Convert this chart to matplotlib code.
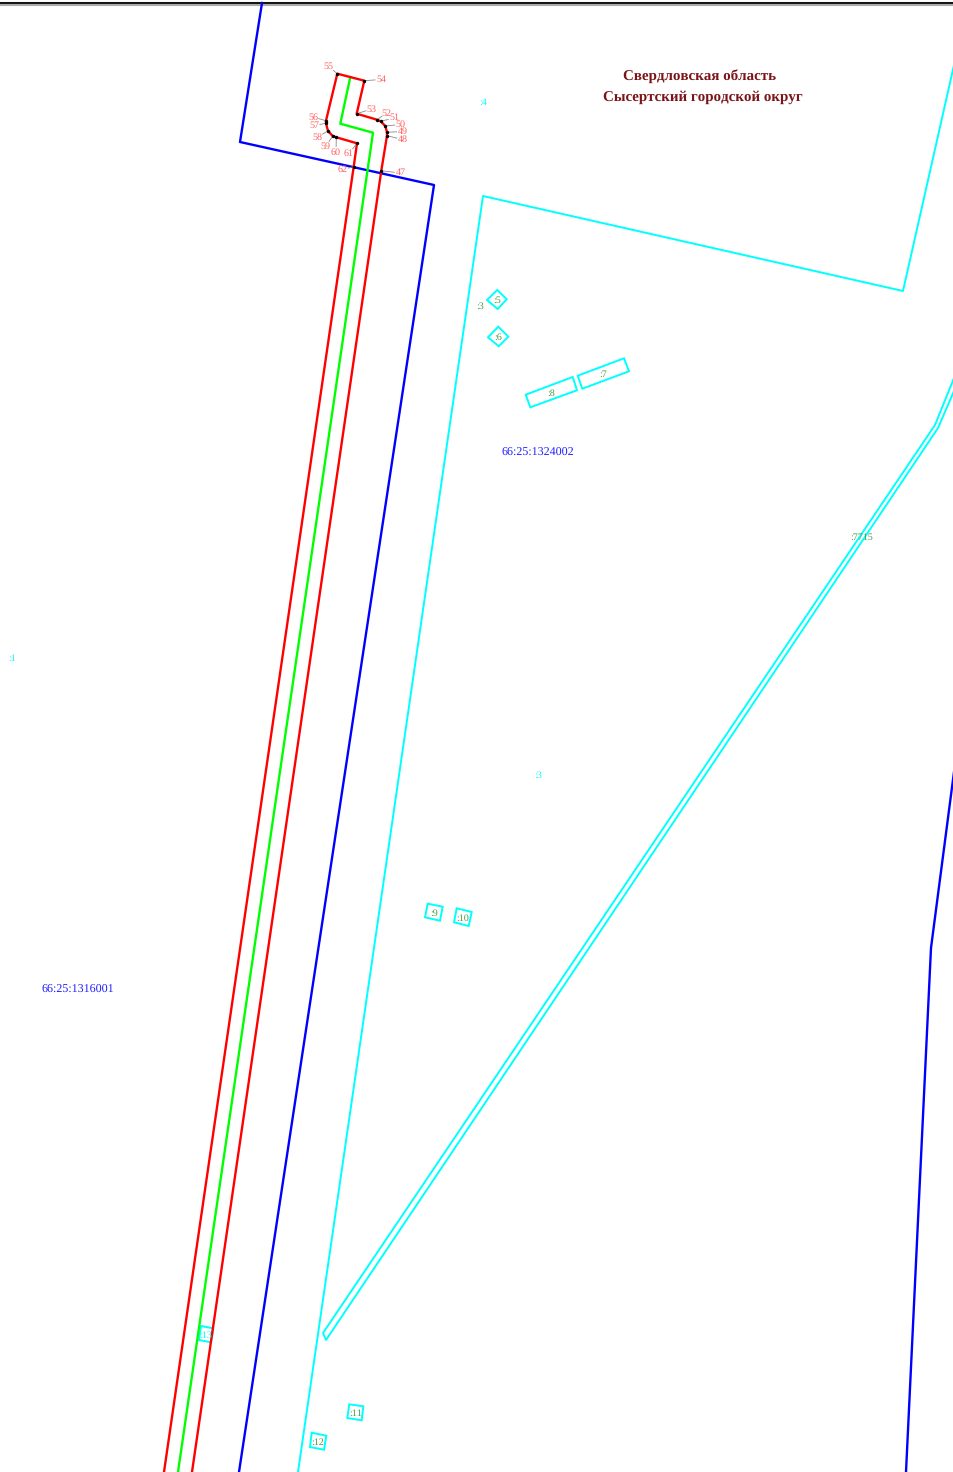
"""Cadastral plan sheet: red allotment, green axis, blue and cyan boundaries."""

import math

import matplotlib.pyplot as plt

plt.rcParams["font.family"] = ["Liberation Serif", "DejaVu Serif"]
plt.rcParams["text.hinting"] = "no_hinting"
plt.rcParams["text.hinting_factor"] = 1

W, H = 954, 1472

# -- boundaries, pixel coordinates of the sheet --
quarter_a_x = [262, 240, 434, 239]
quarter_a_y = [3, 142, 185, 1472]
quarter_b_x = [954, 931, 906]
quarter_b_y = [772, 948, 1472]

parcel_x = [298, 483, 903, 954]
parcel_y = [1472, 196, 291, 65]

strip_x = [954, 935, 323, 326, 938, 954]
strip_y = [378, 425, 1333, 1340, 428, 391]

# -- allotment --
red_x = [192, 381.3, 387, 387, 385.3, 380.7, 377, 356.7, 364.3, 337.3, 326, 326,
         328, 332.7, 336.3, 357, 353.7, 164]
red_y = [1472, 170.7, 135.7, 132.3, 126, 121.3, 119.7, 113.7, 80.7, 73.7, 120.7, 123.3,
         131, 136, 137.3, 143.3, 166.7, 1472]
axis_x = [350.3, 340.3, 373, 178]
axis_y = [77, 123.7, 132.7, 1472]

# -- turning points: number, vertex, label centre --
point_names = ["47", "48", "49", "50", "51", "52", "53", "54", "55", "56", "57", "58",
               "59", "60", "61", "62"]
point_x = [381.3, 387, 387, 385.3, 380.7, 377, 356.7, 364.3, 337.3, 326, 326, 328,
           332.7, 336.3, 357, 353.7]
point_y = [170.7, 135.7, 132.3, 126, 121.3, 119.7, 113.7, 80.7, 73.7, 120.7, 123.3, 131,
           136, 137.3, 143.3, 166.7]
label_x = [400.3, 402.7, 402.7, 400.7, 394, 386.7, 371.7, 381, 328.7, 313, 314, 317.3,
           325.7, 336, 349, 342.3]
label_y = [173, 139.5, 131.5, 124.5, 118, 113, 109, 79.5, 66.5, 117, 125.5, 137,
           146.5, 152.5, 153.5, 169.5]

# -- small buildings, closed outlines with their labels --
box_names = [":5", ":6", ":8", ":7", ":9", ":10", ":13", ":11", ":12"]
box_xs = [[497.3, 506.7, 497.7, 487], [498.3, 508.3, 498.7, 488],
          [525.7, 572.7, 577, 530.3], [577.7, 624, 629, 582.3],
          [427.7, 442.7, 440, 425], [456.7, 471.7, 468.7, 454],
          [201, 213.3, 211, 199], [349.3, 363.3, 361.7, 347.3],
          [311.7, 326.3, 324, 310]]
box_ys = [[290, 299.3, 309, 300], [326.7, 336.7, 346.3, 337.3],
          [394.7, 377, 390.3, 407.3], [375.7, 358.3, 371.3, 388.7],
          [903.7, 906.7, 920.7, 917.3], [908.3, 912, 926, 922.3],
          [1326, 1328.3, 1342.3, 1340], [1404.3, 1406.3, 1420.3, 1418],
          [1432.7, 1435.7, 1449.7, 1447]]

# -- other captions --
cyan_names = [":4", ":1", ":3"]
cyan_x = [483, 12, 538]
cyan_y = [102.5, 658.5, 775.5]
green_names = [":3", ":7715"]
green_x = [480, 862]
green_y = [306.5, 537]
quarter_names = ["66:25:1324002", "66:25:1316001"]
quarter_x = [538, 78]
quarter_y = [452.5, 989.5]
region_lines = ["Свердловская область", "Сысертский городской округ"]
region_x = [700, 703]
region_y = [76, 97]

BLUE = "#0000ff"
RED = "#ff0000"
GREEN = "#00ff00"
CYAN = "#00ffff"
DARK_GREEN = "#4a9a4a"

fig = plt.figure(figsize=(W / 100, H / 100), dpi=100)
ax = fig.add_axes([0, 0, 1, 1])
ax.set_xlim(0, W)
ax.set_ylim(H, 0)
ax.axis("off")

# sheet edge
ax.plot([0, W], [3.5, 3.5], color="#aaaaaa", lw=3, solid_capstyle="butt")
ax.plot([0, W], [3.3, 3.3], color="#111111", lw=1.4, solid_capstyle="butt")

ax.plot(parcel_x, parcel_y, color=CYAN, lw=1.4)
ax.plot(strip_x, strip_y, color=CYAN, lw=1.4)
for xs, ys in zip(box_xs, box_ys):
    ax.fill(xs, ys, fill=False, edgecolor=CYAN, lw=1.4)

ax.plot(quarter_a_x, quarter_a_y, color=BLUE, lw=1.7)
ax.plot(quarter_b_x, quarter_b_y, color=BLUE, lw=1.7)
ax.plot(axis_x, axis_y, color=GREEN, lw=1.7)
ax.plot(red_x, red_y, color=RED, lw=1.7)

for x, y, lx, ly, name in zip(point_x, point_y, label_x, label_y, point_names):
    # leader stops short of the number
    dist = math.hypot(lx - x, ly - y)
    keep = max(dist - 6, 0) / dist
    ax.plot([x, x + (lx - x) * keep], [y, y + (ly - y) * keep],
            color="#8a8a8a", lw=0.6, zorder=3)
    ax.text(lx, ly, name, color="#ff6060", fontsize=7, ha="center", va="center", zorder=5)
ax.scatter(point_x, point_y, s=6, color="black", linewidths=0, zorder=4)

for xs, ys, name in zip(box_xs, box_ys, box_names):
    colour = CYAN if name == ":13" else DARK_GREEN
    ax.text(sum(xs) / 4, sum(ys) / 4 + 1, name, color=colour, fontsize=7.2,
            ha="center", va="center")

for x, y, name in zip(cyan_x, cyan_y, cyan_names):
    ax.text(x, y, name, color=CYAN, fontsize=7.5, ha="center", va="center")
for x, y, name in zip(green_x, green_y, green_names):
    ax.text(x, y, name, color=DARK_GREEN, fontsize=7.5, ha="center", va="center")
for x, y, name in zip(quarter_x, quarter_y, quarter_names):
    ax.text(x, y, name, color="#2020ff", fontsize=8.7, ha="center", va="center")
for x, y, name in zip(region_x, region_y, region_lines):
    ax.text(x, y, name, color="#7a1418", fontsize=10.9, fontweight="bold",
            ha="center", va="center")

fig.savefig("out.png", dpi=100)
